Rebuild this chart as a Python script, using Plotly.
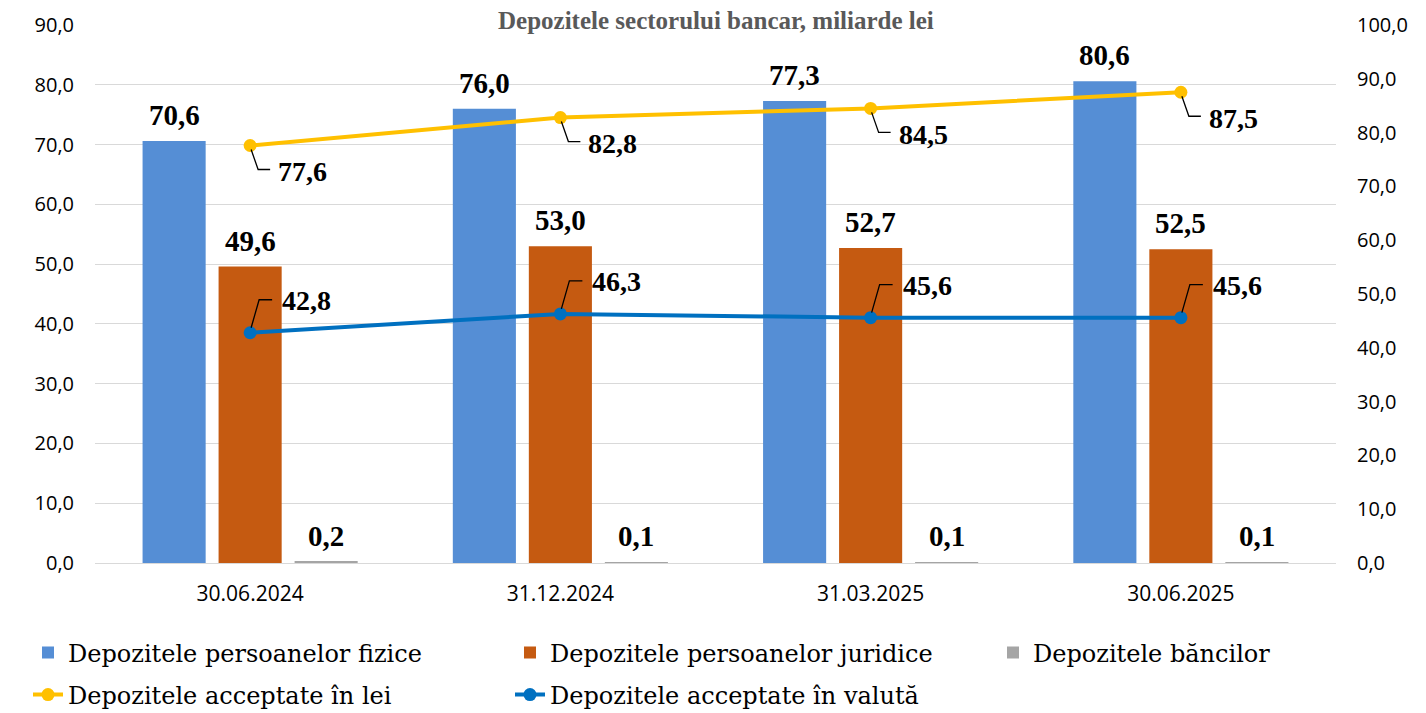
import plotly.graph_objects as go

dates = ["30.06.2024", "31.12.2024", "31.03.2025", "30.06.2025"]
fizice = [70.6, 76.0, 77.3, 80.6]
juridice = [49.6, 53.0, 52.7, 52.5]
bancilor = [0.2, 0.1, 0.1, 0.1]
lei = [77.6, 82.8, 84.5, 87.5]
valuta = [42.8, 46.3, 45.6, 45.6]

names_bar = ["Depozitele persoanelor fizice", "Depozitele persoanelor juridice", "Depozitele băncilor"]
names_line = ["Depozitele acceptate în lei", "Depozitele acceptate în valută"]
title_text = "Depozitele sectorului bancar, miliarde lei"

C_FIZ = "#558ED5"
C_JUR = "#C55A11"
C_BAN = "#A5A5A5"
C_LEI = "#FFC000"
C_VAL = "#0070C0"

# the page body adds an 8px margin; size the figure so it fits the 1426x713 window
OFF = 8
W, H = 1426 - OFF, 713 - OFF
ML, MT = 95 - OFF, 25 - OFF
PLOT_R, PLOT_B = 1336 - OFF, 563 - OFF
MR, MB = W - PLOT_R, H - PLOT_B
PW = W - ML - MR
PH = H - MT - MB
BARGAP = 0.265
LBL_FONT = "Liberation Serif"
SERIF = "DejaVu Serif"
SANS = "Open Sans"

# legend slots (page pixel positions of each legend box: left edge, row centre)
LEG_POS = [(28, 653), (510, 653), (993, 653), (28, 695), (510, 695)]


def fmt(v):
    return f"{v:.1f}".replace(".", ",")


def px2paper(px, py):
    px -= OFF
    py -= OFF
    return (px - ML) / PW, (MT + PH - py) / PH


legend_ids = ["legend", "legend2", "legend3", "legend4", "legend5"]

fig = go.Figure()
for j, (vals, name, col) in enumerate(zip([fizice, juridice, bancilor], names_bar, [C_FIZ, C_JUR, C_BAN])):
    fig.add_trace(go.Bar(x=dates, y=vals, name=name, marker=dict(color=col, line=dict(width=0)),
                         yaxis="y", hoverinfo="skip", legend=legend_ids[j]))

for j, (vals, name, col) in enumerate(zip([lei, valuta], names_line, [C_LEI, C_VAL])):
    fig.add_trace(go.Scatter(x=dates, y=vals, name=name, mode="lines+markers",
                             line=dict(color=col, width=4), marker=dict(color=col, size=13),
                             yaxis="y2", cliponaxis=False, hoverinfo="skip", legend=legend_ids[3 + j]))

annotations = []
shapes = []
slot = (1 - BARGAP) / 3
for k, vals in enumerate([fizice, juridice, bancilor]):
    for i, v in enumerate(vals):
        annotations.append(dict(x=i + (k - 1) * slot, y=v, xref="x", yref="y", text=f"<b>{fmt(v)}</b>",
                                showarrow=False, yanchor="bottom", yshift=8,
                                font=dict(family=LBL_FONT, size=29, color="#000000")))

# yellow labels: below-right with elbow leader
for i, v in enumerate(lei):
    annotations.append(dict(x=i, y=v, xref="x", yref="y2", text=f"<b>{fmt(v)}</b>", showarrow=False,
                            xanchor="left", yanchor="middle", xshift=26, yshift=-26,
                            font=dict(family=LBL_FONT, size=28, color="#000000")))
    shapes.append(dict(type="path", xref="x", yref="y2", xsizemode="pixel", ysizemode="pixel",
                       xanchor=i, yanchor=v, path="M 1,-4 L 8,-24 L 20,-24",
                       line=dict(color="#000000", width=1.3)))
# blue labels: above-right with elbow leader
for i, v in enumerate(valuta):
    annotations.append(dict(x=i, y=v, xref="x", yref="y2", text=f"<b>{fmt(v)}</b>", showarrow=False,
                            xanchor="left", yanchor="middle", xshift=30, yshift=32,
                            font=dict(family=LBL_FONT, size=28, color="#000000")))
    shapes.append(dict(type="path", xref="x", yref="y2", xsizemode="pixel", ysizemode="pixel",
                       xanchor=i, yanchor=v, path="M 1,5 L 9,33 L 22,33",
                       line=dict(color="#000000", width=1.3)))

annotations.append(dict(x=0.5, y=1.0, xref="paper", yref="paper", text=f"<b>{title_text}</b>",
                        showarrow=False, yanchor="top", yshift=MT + 3,
                        font=dict(family=LBL_FONT, size=25, color="#595959")))

layout_legends = {}
for lid, (lx, ly) in zip(legend_ids, LEG_POS):
    px, py = px2paper(lx, ly)
    layout_legends[lid] = dict(orientation="h", x=px, xanchor="left", y=py, yanchor="middle",
                               font=dict(family=SERIF, size=24, color="#000000"),
                               bgcolor="rgba(0,0,0,0)", borderwidth=0)

fig.update_layout(
    width=W, height=H,
    margin=dict(l=ML, r=MR, t=MT, b=MB, pad=0, autoexpand=False),
    paper_bgcolor="#ffffff", plot_bgcolor="#ffffff",
    separators=", ",
    barmode="group", bargap=BARGAP, bargroupgap=0.17,
    xaxis=dict(type="category", showgrid=False, showline=True, linecolor="#d9d9d9", linewidth=1,
               ticks="", tickfont=dict(family=SANS, size=21, color="#000000"), ticklabelstandoff=12,
               fixedrange=True),
    yaxis=dict(range=[0, 90], dtick=10, tickformat=".1f", showgrid=True, gridcolor="#d9d9d9",
               gridwidth=1, zeroline=False, showline=False, ticks="",
               tickfont=dict(family=SANS, size=20, color="#000000"), ticklabelstandoff=20),
    yaxis2=dict(range=[0, 100], dtick=10, tickformat=".1f", overlaying="y", side="right",
                showgrid=False, zeroline=False, showline=False, ticks="",
                tickfont=dict(family=SANS, size=20, color="#000000"), ticklabelstandoff=20),
    annotations=annotations,
    shapes=shapes,
    showlegend=True,
    **layout_legends,
)

fig.write_html("out.html")
